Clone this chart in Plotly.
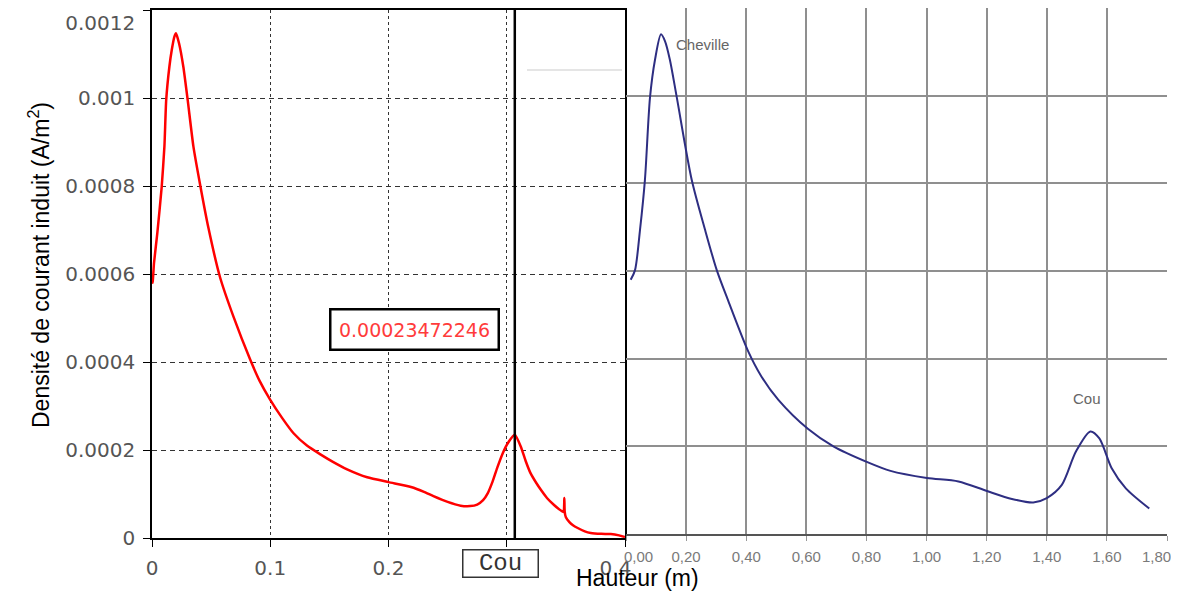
import plotly.graph_objects as go

# ---------------- data ----------------
# Left panel (simulation): height (m) vs induced current density (A/m^2)
red_x = [0, 0.0006, 0.0017, 0.0045, 0.0082, 0.0105, 0.0120, 0.0147, 0.0167, 0.0190,
         0.0203, 0.0229, 0.0265, 0.0302, 0.0350, 0.0407, 0.0477, 0.0576, 0.0689, 0.0831,
         0.091, 0.100, 0.110, 0.1197, 0.131, 0.1424, 0.153, 0.165, 0.182, 0.200,
         0.219, 0.230, 0.238, 0.250, 0.261, 0.269, 0.275, 0.280, 0.284, 0.288,
         0.292, 0.297, 0.301, 0.3068, 0.312, 0.316, 0.320, 0.325, 0.329, 0.334,
         0.340, 0.344, 0.3480, 0.3487, 0.3490, 0.3500, 0.353, 0.356, 0.360, 0.366,
         0.371, 0.380, 0.388, 0.395, 0.400]
red_y = [0.000578, 0.000583, 0.000625, 0.000693, 0.000798, 0.000890, 0.000995, 0.001071, 0.001109, 0.001140,
         0.001147, 0.001124, 0.001071, 0.000995, 0.000890, 0.000803, 0.000705, 0.000592, 0.000503, 0.000405,
         0.000357, 0.000314, 0.000273, 0.000238, 0.000210, 0.000190, 0.000173, 0.000156, 0.000138, 0.000127,
         0.000116, 0.000105, 0.000095, 0.000082, 0.0000735, 0.0000725, 0.000076, 0.000086, 0.000102, 0.000128,
         0.000160, 0.000195, 0.000216, 0.00023472246, 0.000207, 0.000175, 0.000148, 0.000125, 0.000109, 0.000091,
         0.000075, 0.000066, 0.000059, 0.000091, 0.000060, 0.000047, 0.000036, 0.000029, 0.0000227, 0.000015,
         0.0000114, 0.0000095, 0.0000091, 0.0000060, 0.0000023]

# Right panel (reference): height (m) vs density, in grid units
blue_x = [0.0156, 0.030, 0.0466, 0.063, 0.0799, 0.0965, 0.1165, 0.130, 0.146, 0.169,
          0.2186, 0.263, 0.302, 0.339, 0.407, 0.450, 0.507, 0.605, 0.690, 0.803,
          0.880, 1.001, 1.106, 1.201, 1.284, 1.355, 1.400, 1.450, 1.497, 1.545,
          1.575, 1.616, 1.663, 1.741]
blue_y = [2.90, 3.01, 3.47, 4.04, 4.98, 5.41, 5.70, 5.62, 5.41, 4.98,
          4.04, 3.47, 3.01, 2.67, 2.08, 1.80, 1.53, 1.20, 1.00, 0.82,
          0.72, 0.64, 0.60, 0.49, 0.40, 0.36, 0.41, 0.56, 0.94, 1.17,
          1.09, 0.75, 0.52, 0.29]

NB = "\u00a0"
left_xticks = [0, 0.1, 0.2, 0.3, 0.4]
left_xlabels = ["0", "0.1", "0.2", "0.3", "0.4" + NB * 3]
left_yticks = [0, 0.0002, 0.0004, 0.0006, 0.0008, 0.001, 0.0012]
left_ylabels = ["0", "0.0002", "0.0004", "0.0006", "0.0008", "0.001", NB + "<br>0.0012"]
right_xticks = [0, 0.2, 0.4, 0.6, 0.8, 1.0, 1.2, 1.4, 1.6, 1.8]
right_xlabels = [NB * 6 + "0,00", "0,20", "0,40", "0,60", "0,80", "1,00", "1,20", "1,40", "1,60", "1,80" + NB * 5]
right_yticks = [0, 1, 2, 3, 4, 5, 6]

value_label = "0.00023472246"
neck_label = "Cou"
ankle_label = "Cheville"
y_title = "Densité de courant induit (A/m<sup>2</sup>)"
x_title = "Hauteur (m)"

# ---------------- layout helpers ----------------
# the page body adds an 8px margin, so the figure is shrunk by it and
# all target pixel positions are converted relative to that offset
OFF = 8
W, H = 1179 - OFF, 612 - OFF
def fx(p):
    return (p - OFF) / W
def fy(p):
    return 1 - (p - OFF) / H

TICKFONT = dict(family="DejaVu Sans, Verdana, sans-serif", size=20, color="#555555")
NARROW = "Liberation Sans Narrow, Arial Narrow, Liberation Sans, Arial, sans-serif"

fig = go.Figure()
fig.add_trace(go.Scatter(x=red_x, y=red_y, mode="lines", xaxis="x", yaxis="y",
                         line=dict(color="#ff0000", width=2.5, shape="spline", smoothing=0.5),
                         showlegend=False))
fig.add_trace(go.Scatter(x=blue_x, y=blue_y, mode="lines", xaxis="x2", yaxis="y2",
                         line=dict(color="#2e2e82", width=2, shape="spline", smoothing=0.8),
                         showlegend=False))

# cursor at the neck peak
neck_start = next(i for i, v in enumerate(red_x) if v >= 0.25)
peak_i = max(range(neck_start, len(red_x)), key=lambda i: red_y[i])
cursor_x = red_x[peak_i]

fig.update_layout(
    width=W, height=H,
    margin=dict(l=0, r=0, t=0, b=0, autoexpand=False),
    paper_bgcolor="white", plot_bgcolor="white",
    showlegend=False,
    xaxis=dict(domain=[fx(152), fx(625)], range=[0, 0.4], tickvals=left_xticks, ticktext=left_xlabels,
               showgrid=True, gridcolor="#333333", gridwidth=1, griddash="3px,3px",
               showline=True, linecolor="black", linewidth=1.5, mirror=True,
               ticks="outside", ticklen=7, tickcolor="black", tickwidth=1.2,
               tickfont=TICKFONT, zeroline=False, ticklabelstandoff=4, anchor="y",
               automargin=False, ticklabeloverflow="allow"),
    yaxis=dict(domain=[fy(538), fy(10)], range=[0, 0.0012], tickvals=left_yticks, ticktext=left_ylabels,
               showgrid=True, gridcolor="#333333", gridwidth=1, griddash="5px,4px",
               showline=True, linecolor="black", linewidth=1.5, mirror=True,
               ticks="outside", ticklen=7, tickcolor="black", tickwidth=1.2,
               tickfont=TICKFONT, zeroline=False, ticklabelstandoff=4, anchor="x",
               automargin=False, ticklabeloverflow="allow"),
    xaxis2=dict(domain=[fx(626), fx(1167)], range=[0, 1.8], tickvals=right_xticks, ticktext=right_xlabels,
                showgrid=True, gridcolor="#8f8f8f", gridwidth=1.5,
                showline=True, linecolor="#555555", linewidth=1.5, mirror=False,
                ticks="outside", ticklen=5, tickcolor="#999999",
                tickfont=dict(family=NARROW, size=15, color="#7a7a7a"),
                zeroline=False, anchor="y2", ticklabelstandoff=3,
                automargin=False, ticklabeloverflow="allow"),
    yaxis2=dict(domain=[fy(534), fy(8)], range=[0, 6], tickvals=right_yticks,
                showgrid=True, gridcolor="#8f8f8f", gridwidth=1.5,
                showticklabels=False, showline=False, zeroline=False, anchor="x2",
                automargin=False),
)

fig.add_shape(type="line", xref="x", yref="y", x0=cursor_x, x1=cursor_x, y0=0, y1=0.0012,
              line=dict(color="black", width=2.5), layer="above")
fig.add_shape(type="line", xref="paper", yref="paper", x0=fx(527), x1=fx(622), y0=fy(70), y1=fy(70),
              line=dict(color="#dddddd", width=1.5), layer="above")

# value box
fig.add_annotation(xref="paper", yref="paper", x=fx(414), y=fy(330), text=value_label,
                   showarrow=False, font=dict(family="DejaVu Sans, Verdana, sans-serif", size=19, color="#ff3b3b"),
                   bordercolor="black", borderwidth=2.5, borderpad=1, bgcolor="white",
                   width=164, height=36, xanchor="center", yanchor="middle")
# "Cou" box below left axis
fig.add_annotation(xref="paper", yref="paper", x=fx(500), y=fy(563), text=neck_label,
                   showarrow=False, font=dict(family="Liberation Mono, Courier New, monospace", size=24, color="#333333"),
                   bordercolor="#333333", borderwidth=1.5, borderpad=1, bgcolor="white",
                   width=72, height=24, xanchor="center", yanchor="middle")
# right panel labels
fig.add_annotation(xref="x2", yref="y2", x=0.253, y=5.58, text=ankle_label, showarrow=False,
                   font=dict(family=NARROW, size=15, color="#666666"))
fig.add_annotation(xref="x2", yref="y2", x=1.535, y=1.55, text=neck_label, showarrow=False,
                   font=dict(family=NARROW, size=15, color="#666666"))
# axis titles
fig.add_annotation(xref="paper", yref="paper", x=fx(22), y=fy(265), text=y_title, textangle=-90,
                   showarrow=False, font=dict(family="Liberation Sans, Arial, sans-serif", size=23, color="black"))
fig.add_annotation(xref="paper", yref="paper", x=fx(637), y=fy(593), text=x_title,
                   showarrow=False, font=dict(family="Liberation Sans, Arial, sans-serif", size=23, color="black"))

fig.write_html("out.html")
